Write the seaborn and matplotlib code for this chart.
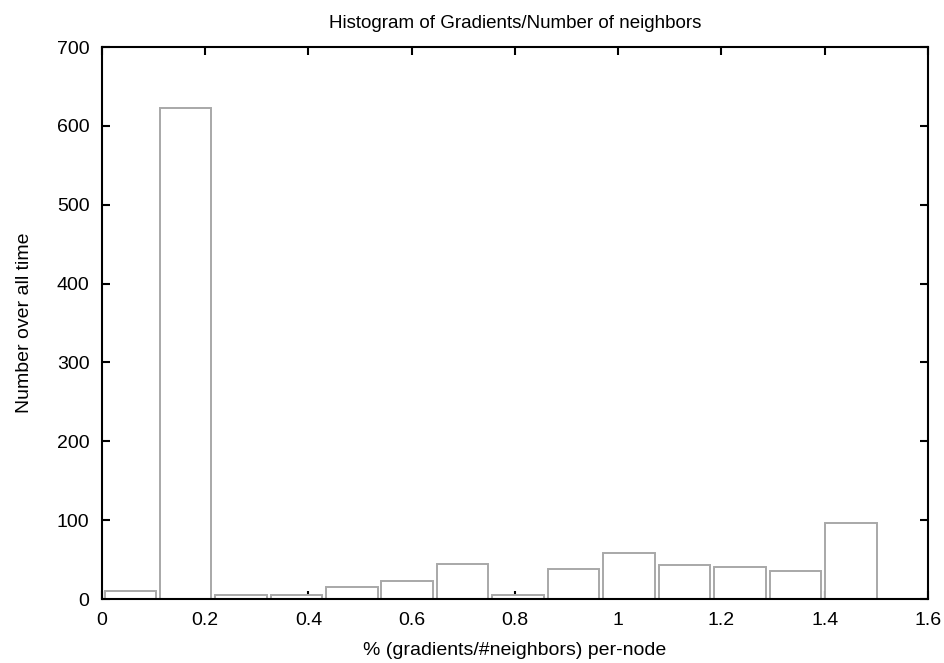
import pandas as pd
import seaborn as sns
import matplotlib.pyplot as plt

# bin centres (fraction gradients/#neighbors) and counts
bin_centers = [0.055, 0.162, 0.269, 0.377, 0.484, 0.591, 0.699,
               0.806, 0.914, 1.021, 1.128, 1.236, 1.343, 1.451]
counts = [10, 623, 5, 5, 15, 23, 45, 5, 38, 58, 43, 40, 35, 96]

x_ticks = [0, 0.2, 0.4, 0.6, 0.8, 1, 1.2, 1.4, 1.6]
x_ticklabels = ["0", "0.2", "0.4", "0.6", "0.8", "1", "1.2", "1.4", "1.6"]
y_ticks = [0, 100, 200, 300, 400, 500, 600, 700]

sns.set_style("ticks")
plt.rcParams['font.family'] = ['Liberation Sans', 'DejaVu Sans']
plt.rcParams['text.color'] = 'black'
plt.rcParams['axes.labelcolor'] = 'black'
plt.rcParams['xtick.color'] = 'black'
plt.rcParams['ytick.color'] = 'black'

df = pd.DataFrame({'x': bin_centers, 'count': counts})

fig = plt.figure(figsize=(9.44, 6.63), dpi=100)
ax = fig.add_axes([0.108, 0.0965, 0.875, 0.8325])
sns.barplot(data=df, x='x', y='count', native_scale=True, width=0.93,
            color='white', edgecolor='#a8a8a8', linewidth=1.4, ax=ax)

ax.set_xlim(0, 1.6)
ax.set_ylim(0, 700)
ax.set_xticks(x_ticks)
ax.set_xticklabels(x_ticklabels)
ax.set_yticks(y_ticks)
ax.tick_params(direction='in', length=6, width=1.5, top=True, right=True,
               labelsize=14, pad=9)
for s in ax.spines.values():
    s.set_linewidth(1.5)
    s.set_color('black')

ax.set_title('Histogram of Gradients/Number of neighbors', fontsize=13.5, pad=14)
ax.set_xlabel('% (gradients/#neighbors) per-node', fontsize=14, labelpad=10)
ax.set_ylabel('Number over all time', fontsize=14, labelpad=17)

fig.savefig('out.png', dpi=100)
